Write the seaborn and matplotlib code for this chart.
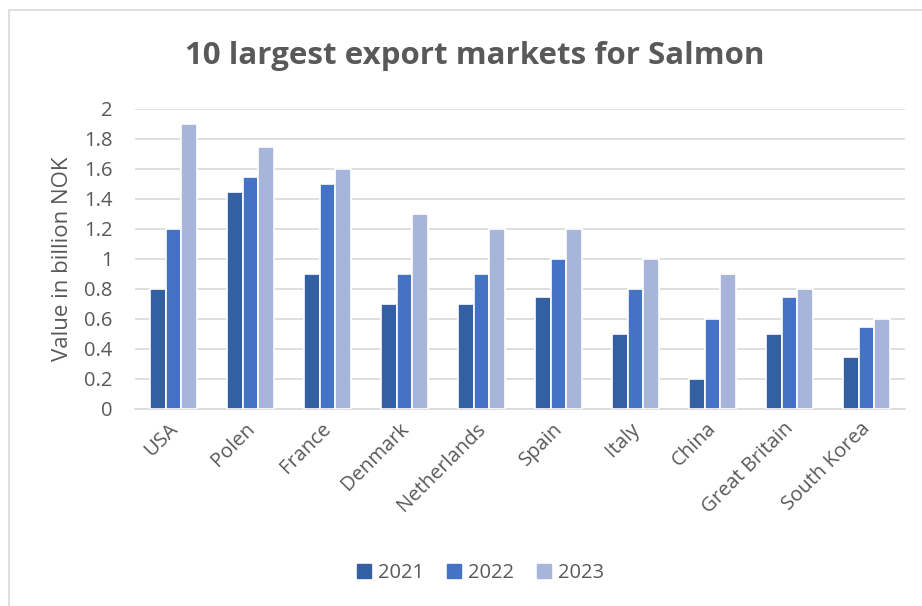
import matplotlib
matplotlib.use("Agg")
import matplotlib.pyplot as plt
import matplotlib.transforms as mtransforms
import seaborn as sns
import pandas as pd
from matplotlib.lines import Line2D

countries = ["USA", "Polen", "France", "Denmark", "Netherlands", "Spain",
             "Italy", "China", "Great Britain", "South Korea"]
years = ["2021", "2022", "2023"]
v2021 = [0.8, 1.45, 0.9, 0.7, 0.7, 0.75, 0.5, 0.2, 0.5, 0.35]
v2022 = [1.2, 1.55, 1.5, 0.9, 0.9, 1.0, 0.8, 0.6, 0.75, 0.55]
v2023 = [1.9, 1.75, 1.6, 1.3, 1.2, 1.2, 1.0, 0.9, 0.8, 0.6]
colors = ["#355FA3", "#4472C4", "#A7B5DA"]

rows = []
for y, vals in zip(years, [v2021, v2022, v2023]):
    for c, v in zip(countries, vals):
        rows.append({"Country": c, "Year": y, "Value": v})
df = pd.DataFrame(rows)

sns.set_theme(style="white")
plt.rcParams['font.family'] = ['Open Sans', 'DejaVu Sans']
txt = "#595959"

fig = plt.figure(figsize=(9.22, 6.06), dpi=100)
ax = fig.add_axes([135/922, 1-409/606, 770/922, 300/606])

sns.barplot(data=df, x="Country", y="Value", hue="Year", palette=colors,
            width=0.62, edgecolor="white", linewidth=1.2, ax=ax,
            saturation=1, legend=False, zorder=3)

ax.set_ylim(0, 2)
ax.set_xlim(-0.5, len(countries) - 0.5)
ax.set_yticks([i * 0.2 for i in range(11)])
ax.set_yticklabels(["0", "0.2", "0.4", "0.6", "0.8", "1", "1.2", "1.4", "1.6", "1.8", "2"])
ax.yaxis.grid(True, color="#D9D9D9", linewidth=1.2, zorder=0)
ax.set_axisbelow(True)
for s in ["top", "right", "left"]:
    ax.spines[s].set_visible(False)
ax.spines["bottom"].set_color("#D9D9D9")
ax.spines["bottom"].set_linewidth(1.2)
ax.tick_params(axis="y", length=0, labelsize=14.5, labelcolor=txt, pad=16)
ax.tick_params(axis="x", length=0, labelsize=14.5, labelcolor=txt, pad=7)
shift = mtransforms.ScaledTranslation(-6/100, 0, fig.dpi_scale_trans)
for lab in ax.get_xticklabels():
    lab.set_rotation(45)
    lab.set_ha("right")
    lab.set_rotation_mode("anchor")
    lab.set_transform(lab.get_transform() + shift)
ax.set_xlabel("")
ax.set_ylabel("")

fig.text(62/922, 1-259/606, "Value in billion NOK", rotation=90,
         ha="center", va="center", fontsize=16, color=txt)

fig.text(475/922, 1-56/606, "10 largest export markets for Salmon",
         ha="center", va="center", fontsize=22.5, fontweight="bold", color=txt)

handles = [Line2D([0], [0], marker="s", linestyle="none", markersize=10,
                  markerfacecolor=c, markeredgecolor=c) for c in colors]
fig.legend(handles, years, loc="center", bbox_to_anchor=(478/922, 1-573/606),
           ncol=3, frameon=False, fontsize=14.5, labelcolor=txt,
           handletextpad=0.1, columnspacing=0.9, handlelength=1.2)

# chart border
fig.add_artist(Line2D([9/922, 9/922], [0, 1-10/606], transform=fig.transFigure,
                      color="#D9D9D9", linewidth=1.2))
fig.add_artist(Line2D([9/922, 1], [1-10/606, 1-10/606], transform=fig.transFigure,
                      color="#D9D9D9", linewidth=1.2))

fig.savefig("out.png", dpi=100)
